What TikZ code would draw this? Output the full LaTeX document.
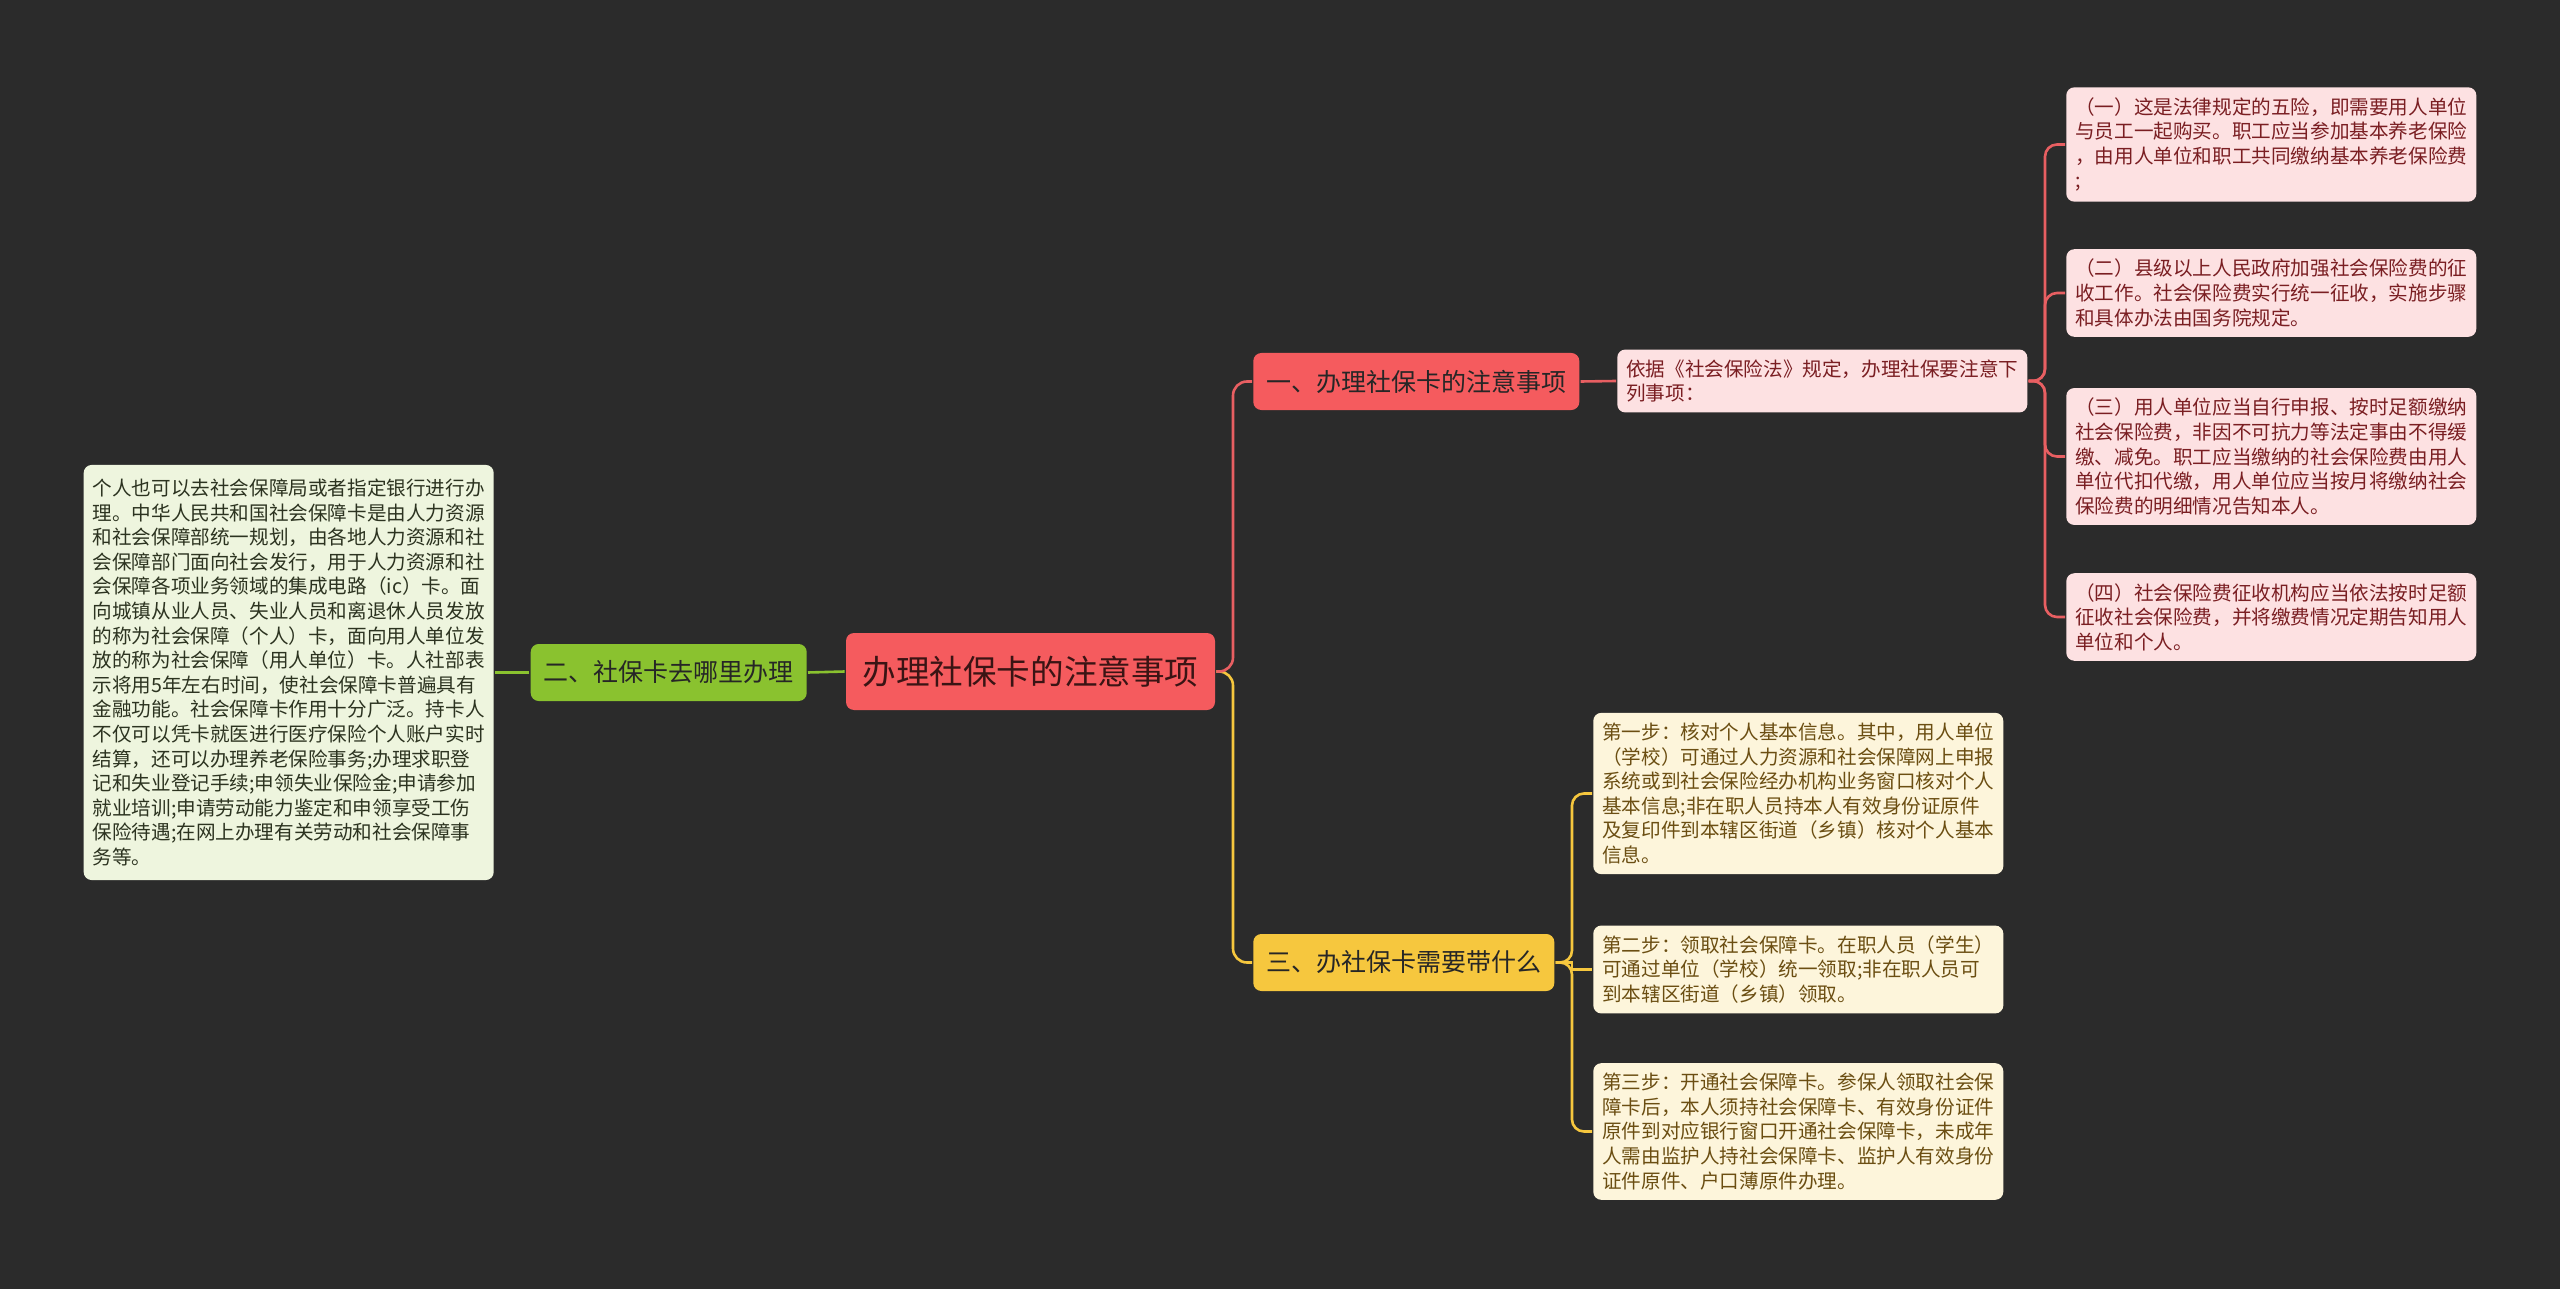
\documentclass[tikz,border=0pt]{standalone}
\usepackage{fontspec}
\newfontfamily\cjk{Noto Sans CJK SC}
\usetikzlibrary{positioning}
\definecolor{bgc}{HTML}{2B2B2B}
\definecolor{rootfill}{HTML}{F55B5E}
\definecolor{roottext}{HTML}{3A1414}
\definecolor{redline}{HTML}{E85F62}
\definecolor{redleaf}{HTML}{FDE1E2}
\definecolor{redtext}{HTML}{7A1E22}
\definecolor{greenfill}{HTML}{8AC22F}
\definecolor{greenleaf}{HTML}{EEF5DE}
\definecolor{greentext}{HTML}{2C3320}
\definecolor{yellowfill}{HTML}{F6C73E}
\definecolor{yellowleaf}{HTML}{FDF5DB}
\definecolor{yellowtext}{HTML}{6B4E12}
\begin{document}
\begin{tikzpicture}[x=0.5pt, y=-0.5pt, line width=1.3pt,
    root node/.style={rectangle, rounded corners=4pt, fill=rootfill, text=roottext, font=\cjk\fontsize{16.8pt}{20pt}\selectfont, minimum width=184.5pt, minimum height=38.5pt, inner sep=0pt},
    branch node/.style={rectangle, rounded corners=4pt, font=\cjk\fontsize{12.5pt}{15pt}\selectfont, minimum height=28.5pt, inner xsep=6.5pt, inner ysep=0pt, text=black!85},
    leaf node/.style={rectangle, rounded corners=4pt, font=\cjk\fontsize{9.8pt}{12.3pt}\selectfont, text width=196pt, align=left, inner xsep=4.5pt, inner ysep=5pt},
    red leaf/.style={leaf node, fill=redleaf, text=redtext},
    yellow leaf/.style={leaf node, fill=yellowleaf, text=yellowtext}]
    \fill[bgc] (0,0) rectangle (2560,1289);
    \useasboundingbox (0,0) rectangle (2560,1289);

    \node[root node] at (1030.5, 671.5) (root) {办理社保卡的注意事项};

    \node[branch node, fill=rootfill, anchor=west] at (1252, 381.5) (b1) {一、办理社保卡的注意事项};
    \node[branch node, fill=greenfill, anchor=east] at (808, 672.5) (b2) {二、社保卡去哪里办理};
    \node[branch node, fill=yellowfill, anchor=west] at (1252, 962.5) (b3) {三、办社保卡需要带什么};

    \node[red leaf, anchor=west] at (1616, 381) (m1) {依据《社会保险法》规定，办理社保要注意下\\列事项：};

    \node[red leaf, anchor=west] at (2065, 144.5) (r1) {（一）这是法律规定的五险，即需要用人单位\\与员工一起购买。职工应当参加基本养老保险\\，由用人单位和职工共同缴纳基本养老保险费\\;};
    \node[red leaf, anchor=west] at (2065, 293) (r2) {（二）县级以上人民政府加强社会保险费的征\\收工作。社会保险费实行统一征收，实施步骤\\和具体办法由国务院规定。};
    \node[red leaf, anchor=west] at (2065, 456.5) (r3) {（三）用人单位应当自行申报、按时足额缴纳\\社会保险费，非因不可抗力等法定事由不得缓\\缴、减免。职工应当缴纳的社会保险费由用人\\单位代扣代缴，用人单位应当按月将缴纳社会\\保险费的明细情况告知本人。};
    \node[red leaf, anchor=west] at (2065, 617) (r4) {（四）社会保险费征收机构应当依法按时足额\\征收社会保险费，并将缴费情况定期告知用人\\单位和个人。};

    \node[leaf node, fill=greenleaf, text=greentext, inner ysep=7pt, anchor=east] at (495, 672.5) (g1) {个人也可以去社会保障局或者指定银行进行办\\理。中华人民共和国社会保障卡是由人力资源\\和社会保障部统一规划，由各地人力资源和社\\会保障部门面向社会发行，用于人力资源和社\\会保障各项业务领域的集成电路（ic）卡。面\\向城镇从业人员、失业人员和离退休人员发放\\的称为社会保障（个人）卡，面向用人单位发\\放的称为社会保障（用人单位）卡。人社部表\\示将用5年左右时间，使社会保障卡普遍具有\\金融功能。社会保障卡作用十分广泛。持卡人\\不仅可以凭卡就医进行医疗保险个人账户实时\\结算，还可以办理养老保险事务;办理求职登\\记和失业登记手续;申领失业保险金;申请参加\\就业培训;申请劳动能力鉴定和申领享受工伤\\保险待遇;在网上办理有关劳动和社会保障事\\务等。};

    \node[yellow leaf, anchor=west] at (1592, 793.5) (y1) {第一步：核对个人基本信息。其中，用人单位\\（学校）可通过人力资源和社会保障网上申报\\系统或到社会保险经办机构业务窗口核对个人\\基本信息;非在职人员持本人有效身份证原件\\及复印件到本辖区街道（乡镇）核对个人基本\\信息。};
    \node[yellow leaf, anchor=west] at (1592, 969.5) (y2) {第二步：领取社会保障卡。在职人员（学生）\\可通过单位（学校）统一领取;非在职人员可\\到本辖区街道（乡镇）领取。};
    \node[yellow leaf, anchor=west] at (1592, 1131.5) (y3) {第三步：开通社会保障卡。参保人领取社会保\\障卡后，本人须持社会保障卡、有效身份证件\\原件到对应银行窗口开通社会保障卡，未成年\\人需由监护人持社会保障卡、监护人有效身份\\证件原件、户口薄原件办理。};

    \coordinate (rsp) at (1233, 0);
    \coordinate (msp) at (2045, 0);
    \coordinate (ysp) at (1572, 0);

    \draw[yellowfill, rounded corners=7pt] (root.east) -- (root.east -| rsp) |- (b3.west);
    \draw[redline, rounded corners=7pt] (root.east) -- (root.east -| rsp) |- (b1.west);
    \draw[greenfill] (root.west) -- (b2.east);
    \draw[greenfill] (b2.west) -- (g1.east);

    \draw[redline] (b1.east) -- (m1.west);
    \draw[redline, rounded corners=6pt] (m1.east) -- (m1.east -| msp) |- (r1.west);
    \draw[redline, rounded corners=6pt] (m1.east) -- (m1.east -| msp) |- (r2.west);
    \draw[redline, rounded corners=6pt] (m1.east) -- (m1.east -| msp) |- (r3.west);
    \draw[redline, rounded corners=6pt] (m1.east) -- (m1.east -| msp) |- (r4.west);

    \draw[yellowfill, rounded corners=6pt] (b3.east) -- (b3.east -| ysp) |- (y1.west);
    \draw[yellowfill] (b3.east) -- (b3.east -| ysp) |- (y2.west);
    \draw[yellowfill, rounded corners=6pt] (b3.east) -- (b3.east -| ysp) |- (y3.west);
\end{tikzpicture}
\end{document}
